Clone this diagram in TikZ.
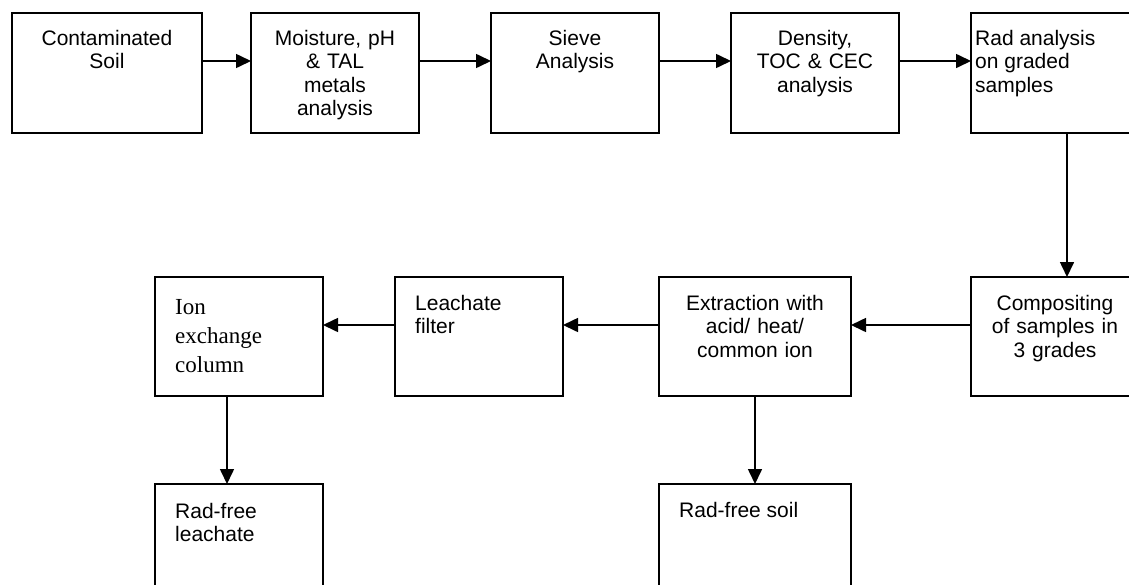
\documentclass[tikz,border=0pt]{standalone}
\usepackage{fontspec}
\setmainfont{Liberation Sans}
\newfontfamily\tmsfont{Liberation Serif}
\usetikzlibrary{arrows.meta}
\begin{document}
\begin{tikzpicture}[x=1pt,y=-1pt,
  box/.style={draw, line width=1.6pt, inner sep=0pt, outer sep=0pt},
  topbox/.style={box, minimum height=120pt},
  lowbox/.style={box, minimum height=119pt},
  ctext/.style={anchor=north, inner sep=0pt, align=center, font=\fontsize{21pt}{23.5pt}\selectfont},
  ltext/.style={anchor=north west, inner sep=0pt, align=left, font=\fontsize{21pt}{23.5pt}\selectfont},
  stext/.style={anchor=north west, inner sep=0pt, align=left, font=\tmsfont\fontsize{23pt}{29pt}\selectfont},
  conn/.style={line width=1.6pt, -{Triangle[length=15pt,width=14pt]}}
]
\useasboundingbox (0,0) rectangle (1129,584);
\clip (0,0) rectangle (1129,584);
\fill[white] (0,0) rectangle (1129,584);
% top row
\node[topbox, minimum width=190pt] (b1) at (107,73) {};
\node[topbox, minimum width=168pt] (b2) at (335,73) {};
\node[topbox, minimum width=168pt] (b3) at (575,73) {};
\node[topbox, minimum width=168pt] (b4) at (815,73) {};
\node[topbox, minimum width=192pt] (b5) at (1067,73) {};
\node[ctext, text width=190pt] (t1) at (107,30) {Contaminated\\Soil};
\node[ctext, text width=168pt] (t2) at (335,30) {Moisture, pH\\\& TAL\\metals\\analysis};
\node[ctext, text width=168pt] (t3) at (575,30) {Sieve\\Analysis};
\node[ctext, text width=168pt] (t4) at (815,30) {Density,\\TOC \& CEC\\analysis};
\node[ltext] (t5) at (975,30) {Rad analysis\\on graded\\samples};
% middle row
\node[lowbox, minimum width=192pt] (comp) at (1067,336.5) {};
\node[lowbox, minimum width=192pt] (extr) at (755,336.5) {};
\node[lowbox, minimum width=168pt] (leach) at (479,336.5) {};
\node[lowbox, minimum width=168pt] (ion) at (239,336.5) {};
\node[ctext, text width=168pt] (tcomp) at (1055,295) {Compositing\\of samples in\\3 grades};
\node[ctext, text width=192pt] (textr) at (755,295) {Extraction with\\acid/ heat/\\common ion};
\node[ltext] (tleach) at (415,295) {Leachate\\filter};
\node[stext] (tion) at (175,299) {Ion\\exchange\\column};
% bottom row
\node[topbox, minimum width=168pt] (rfl) at (239,544) {};
\node[topbox, minimum width=192pt] (rfs) at (755,544) {};
\node[ltext] (trfl) at (175,503) {Rad-free\\leachate};
\node[ltext] (trfs) at (679,502) {Rad-free soil};
% connectors
\draw[conn] ([yshift=12pt]b1.east) -- ([yshift=12pt]b2.west);
\draw[conn] ([yshift=12pt]b2.east) -- ([yshift=12pt]b3.west);
\draw[conn] ([yshift=12pt]b3.east) -- ([yshift=12pt]b4.west);
\draw[conn] ([yshift=12pt]b4.east) -- ([yshift=12pt]b5.west);
\draw[conn] (b5.south) -- (comp.north);
\draw[conn] ([yshift=11.5pt]comp.west) -- ([yshift=11.5pt]extr.east);
\draw[conn] ([yshift=11.5pt]extr.west) -- ([yshift=11.5pt]leach.east);
\draw[conn] ([yshift=11.5pt]leach.west) -- ([yshift=11.5pt]ion.east);
\draw[conn] (extr.south) -- (rfs.north);
\draw[conn] ([xshift=-12pt]ion.south) -- ([xshift=-12pt]rfl.north);
\end{tikzpicture}
\end{document}
